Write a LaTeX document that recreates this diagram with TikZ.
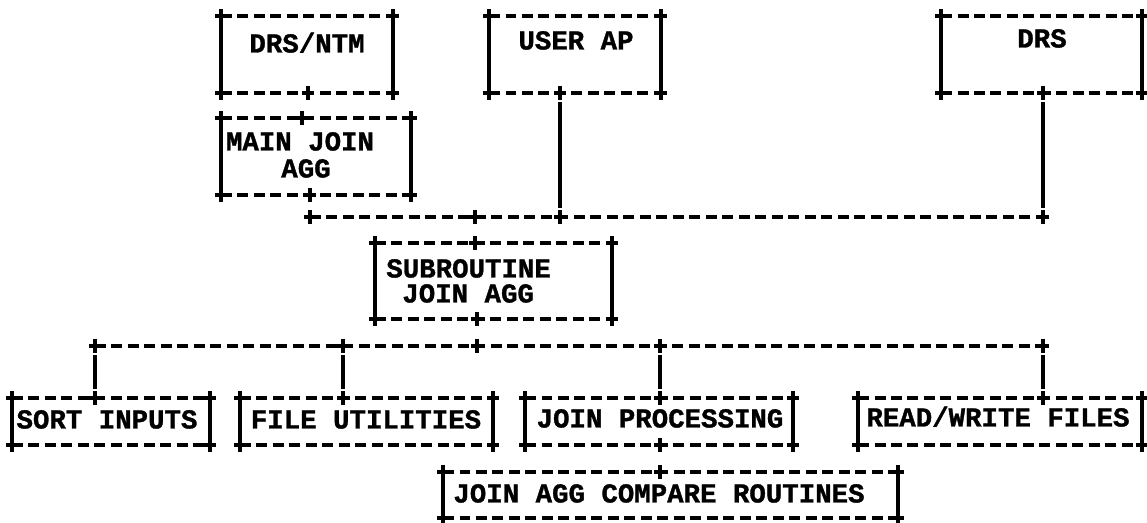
\documentclass[tikz,border=0pt]{standalone}
\usepackage{fontspec}
\setmonofont{Liberation Mono}[BoldFeatures={FakeBold=1.2}]
\usetikzlibrary{fit}

\begin{document}
\begin{tikzpicture}[x=0.02cm, y=-0.02cm,
  box/.style={inner sep=0pt, outer sep=0pt},
  lbl/.style={font=\ttfamily\bfseries\fontsize{15.6}{15.6}\selectfont,
    inner sep=0pt, text height=0.3cm, text depth=0pt},
  dashrule/.style={line width=2pt, dash pattern=on 0.22cm off 0.11cm},
  siderule/.style={line width=2pt},
  wire/.style={line width=2pt, shorten <=0.18cm, shorten >=0.18cm},
  cross/.pic={\draw[line width=2pt] (-6,0) -- (6,0) (0,-7) -- (0,7);}]
  \useasboundingbox (0,0) rectangle (1147,523);

  %% Boxes (frames are drawn further down)
  \node[box, fit={(221,16)(393,93)}]   (drsntm)   {};
  \node[box, fit={(489,16)(661,93)}]   (userap)   {};
  \node[box, fit={(941,16)(1142,93)}]  (drs)      {};
  \node[box, fit={(221,118)(411,195)}] (mainjoin) {};
  \node[box, fit={(375,243)(612,319)}] (subjoin)  {};
  \node[box, fit={(12,398)(210,445)}]  (sortin)   {};
  \node[box, fit={(240,398)(493,445)}] (fileut)   {};
  \node[box, fit={(525,398)(793,445)}] (joinproc) {};
  \node[box, fit={(858,398)(1142,445)}] (readwr)  {};
  \node[box, fit={(443,472)(898,518)}] (compare)  {};

  %% Texts
  \node[lbl] (drsntm-t)   at (307,45)  {DRS/NTM};
  \node[lbl] (userap-t)   at (576,42)  {USER AP};
  \node[lbl] (drs-t)      at (1042,40) {DRS};
  \node[lbl] (mainjoin-t) at (300,143) {MAIN JOIN};
  \node[lbl] (mainjoin-u) at (306,170) {AGG};
  \node[lbl, anchor=west] (subjoin-t) at (386,270) {SUBROUTINE};
  \node[lbl, anchor=west] (subjoin-u) at (402,295) {JOIN AGG};
  \node[lbl] (sortin-t)   at (107,421) {SORT INPUTS};
  \node[lbl] (fileut-t)   at (366,421) {FILE UTILITIES};
  \node[lbl] (joinproc-t) at (660,420) {JOIN PROCESSING};
  \node[lbl] (readwr-t)   at (998,419) {READ/WRITE FILES};
  \node[lbl] (compare-t)  at (659,495) {JOIN AGG COMPARE ROUTINES};

  %% Frames: dashed top and bottom, solid sides, a cross at each corner
  \foreach \b in {drsntm,userap,drs,mainjoin,subjoin,sortin,fileut,joinproc,readwr,compare}{
    \draw[dashrule] (\b.north west) -- (\b.north east);
    \draw[dashrule] (\b.south west) -- (\b.south east);
    \draw[siderule] (\b.north west) -- (\b.south west);
    \draw[siderule] (\b.north east) -- (\b.south east);
    \foreach \a in {north west,north east,south west,south east}
      \pic at (\b.\a) {cross};
  }

  %% Junctions on the two buses
  \coordinate (b1a) at (310,217);
  \coordinate (b1b) at (475,217);
  \coordinate (b1c) at (560,217);
  \coordinate (b1d) at (1043,217);
  \coordinate (b2a) at (95,346);
  \coordinate (b2b) at (343,346);
  \coordinate (b2c) at (477,346);
  \coordinate (b2d) at (660,346);
  \coordinate (b2e) at (1043,346);

  \draw[dashrule] (b1a) -- (b1d);
  \draw[dashrule] (b2a) -- (b2e);
  \draw[wire] (userap.south -| b1c) -- (b1c);
  \draw[wire] (drs.south -| b1d) -- (b1d);
  \draw[wire] (b2a) -- (sortin.north -| b2a);
  \draw[wire] (b2b) -- (fileut.north -| b2b);
  \draw[wire] (b2d) -- (joinproc.north -| b2d);
  \draw[wire] (b2e) -- (readwr.north -| b2e);

  \foreach \c in {b1a,b1b,b1c,b1d,b2a,b2b,b2c,b2d,b2e}
    \pic at (\c) {cross};

  %% Crosses along the box edges
  \foreach \b/\s/\c in {userap/south/b1c, drs/south/b1d, subjoin/north/b1b,
      subjoin/south/b2c, sortin/north/b2a, fileut/north/b2b,
      joinproc/north/b2d, readwr/north/b2e, mainjoin/south/b1a}
    \pic at (\b.\s -| \c) {cross};
  \pic at (drsntm.south -| 308,0) {cross};
  \pic at (mainjoin.north -| 302,0) {cross};
  \pic at (joinproc.south -| 660,0) {cross};
  \pic at (compare.north -| 660,0) {cross};
\end{tikzpicture}
\end{document}
